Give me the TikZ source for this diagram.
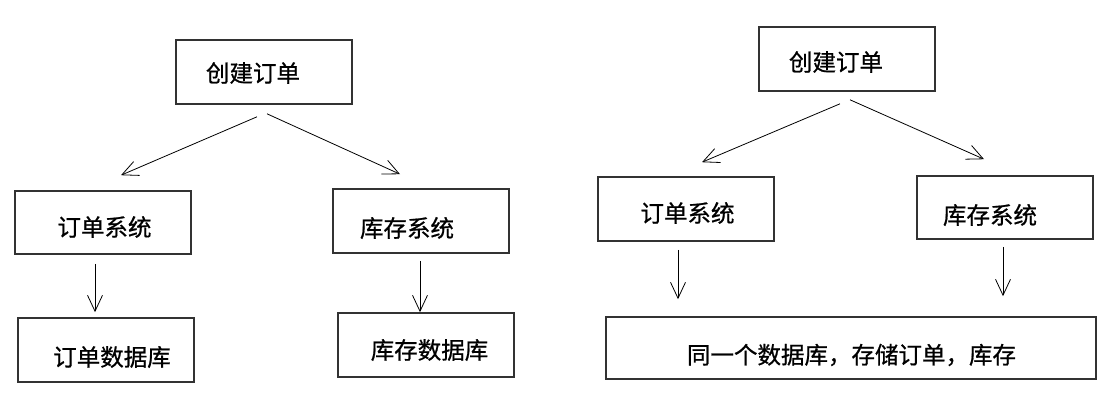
\documentclass[tikz,border=0pt]{standalone}
\usepackage{fontspec}
\setmainfont{Noto Sans CJK SC}[FakeBold=0.8]
\usetikzlibrary{arrows.meta}
\tikzset{>={Straight Barb[length=16pt, width=15pt]}}
\definecolor{boxgray}{RGB}{50, 50, 50}

\begin{document}
\begin{tikzpicture}[
    x = 1pt, y = -1pt,
    font = \fontsize{23.5}{26}\selectfont,
    box/.style = {draw = boxgray, line width = 1.6pt, inner sep = 0pt, minimum width = 176pt, minimum height = 64pt},
    arr/.style = {->, line width = 0.8pt},
]
\useasboundingbox (0,0) rectangle (1108,414);

% left: separate databases
\node[box, label={[xshift=-11pt, yshift=-1pt]center:创建订单}] (lcreate) at (264,72) {};
\node[box, minimum height=63pt, label={[xshift=1.5pt, yshift=-4.5pt]center:订单系统}] (lorder) at (103,222.5) {};
\node[box, label={[xshift=-14pt, yshift=-7pt]center:库存系统}] (lstock) at (421,221) {};
\node[box, label={[xshift=6pt, yshift=-7pt]center:订单数据库}] (lodb) at (106,350) {};
\node[box, label={[xshift=3.5pt, yshift=-5pt]center:库存数据库}] (lsdb) at (426,345) {};

\draw[arr] ([shift={(-7,12)}]lcreate.south) -- ([shift={(18,-15)}]lorder.north);
\draw[arr] ([shift={(3,9)}]lcreate.south) -- ([shift={(-21,-14)}]lstock.north);
\draw[arr] ([shift={(-8,9)}]lorder.south) -- ([shift={(-11,-5)}]lodb.north);
\draw[arr] ([shift={(-1,7)}]lstock.south) -- ([shift={(-6,0)}]lsdb.north);

% right: one shared database
\node[box, label={[xshift=-11pt, yshift=-3pt]center:创建订单}] (rcreate) at (847,59) {};
\node[box, label={[xshift=1.5pt, yshift=-4pt]center:订单系统}] (rorder) at (686,209) {};
\node[box, minimum height=63pt, label={[xshift=-15pt, yshift=-7.5pt]center:库存系统}] (rstock) at (1005,207.5) {};
\node[box, minimum width=490pt, minimum height=62pt, label={[xshift=0.5pt, yshift=-7pt]center:同一个数据库，存储订单，库存}] (rdb) at (851,348) {};

\draw[arr] ([shift={(-7,12)}]rcreate.south) -- ([shift={(16,-14)}]rorder.north);
\draw[arr] ([shift={(3,8)}]rcreate.south) -- ([shift={(-21,-16)}]rstock.north);
\draw[arr] ([shift={(-8,8)}]rorder.south) -- ([shift={(-173,-17)}]rdb.north);
\draw[arr] ([shift={(-2,7)}]rstock.south) -- ([shift={(152,-20)}]rdb.north);
\end{tikzpicture}
\end{document}
